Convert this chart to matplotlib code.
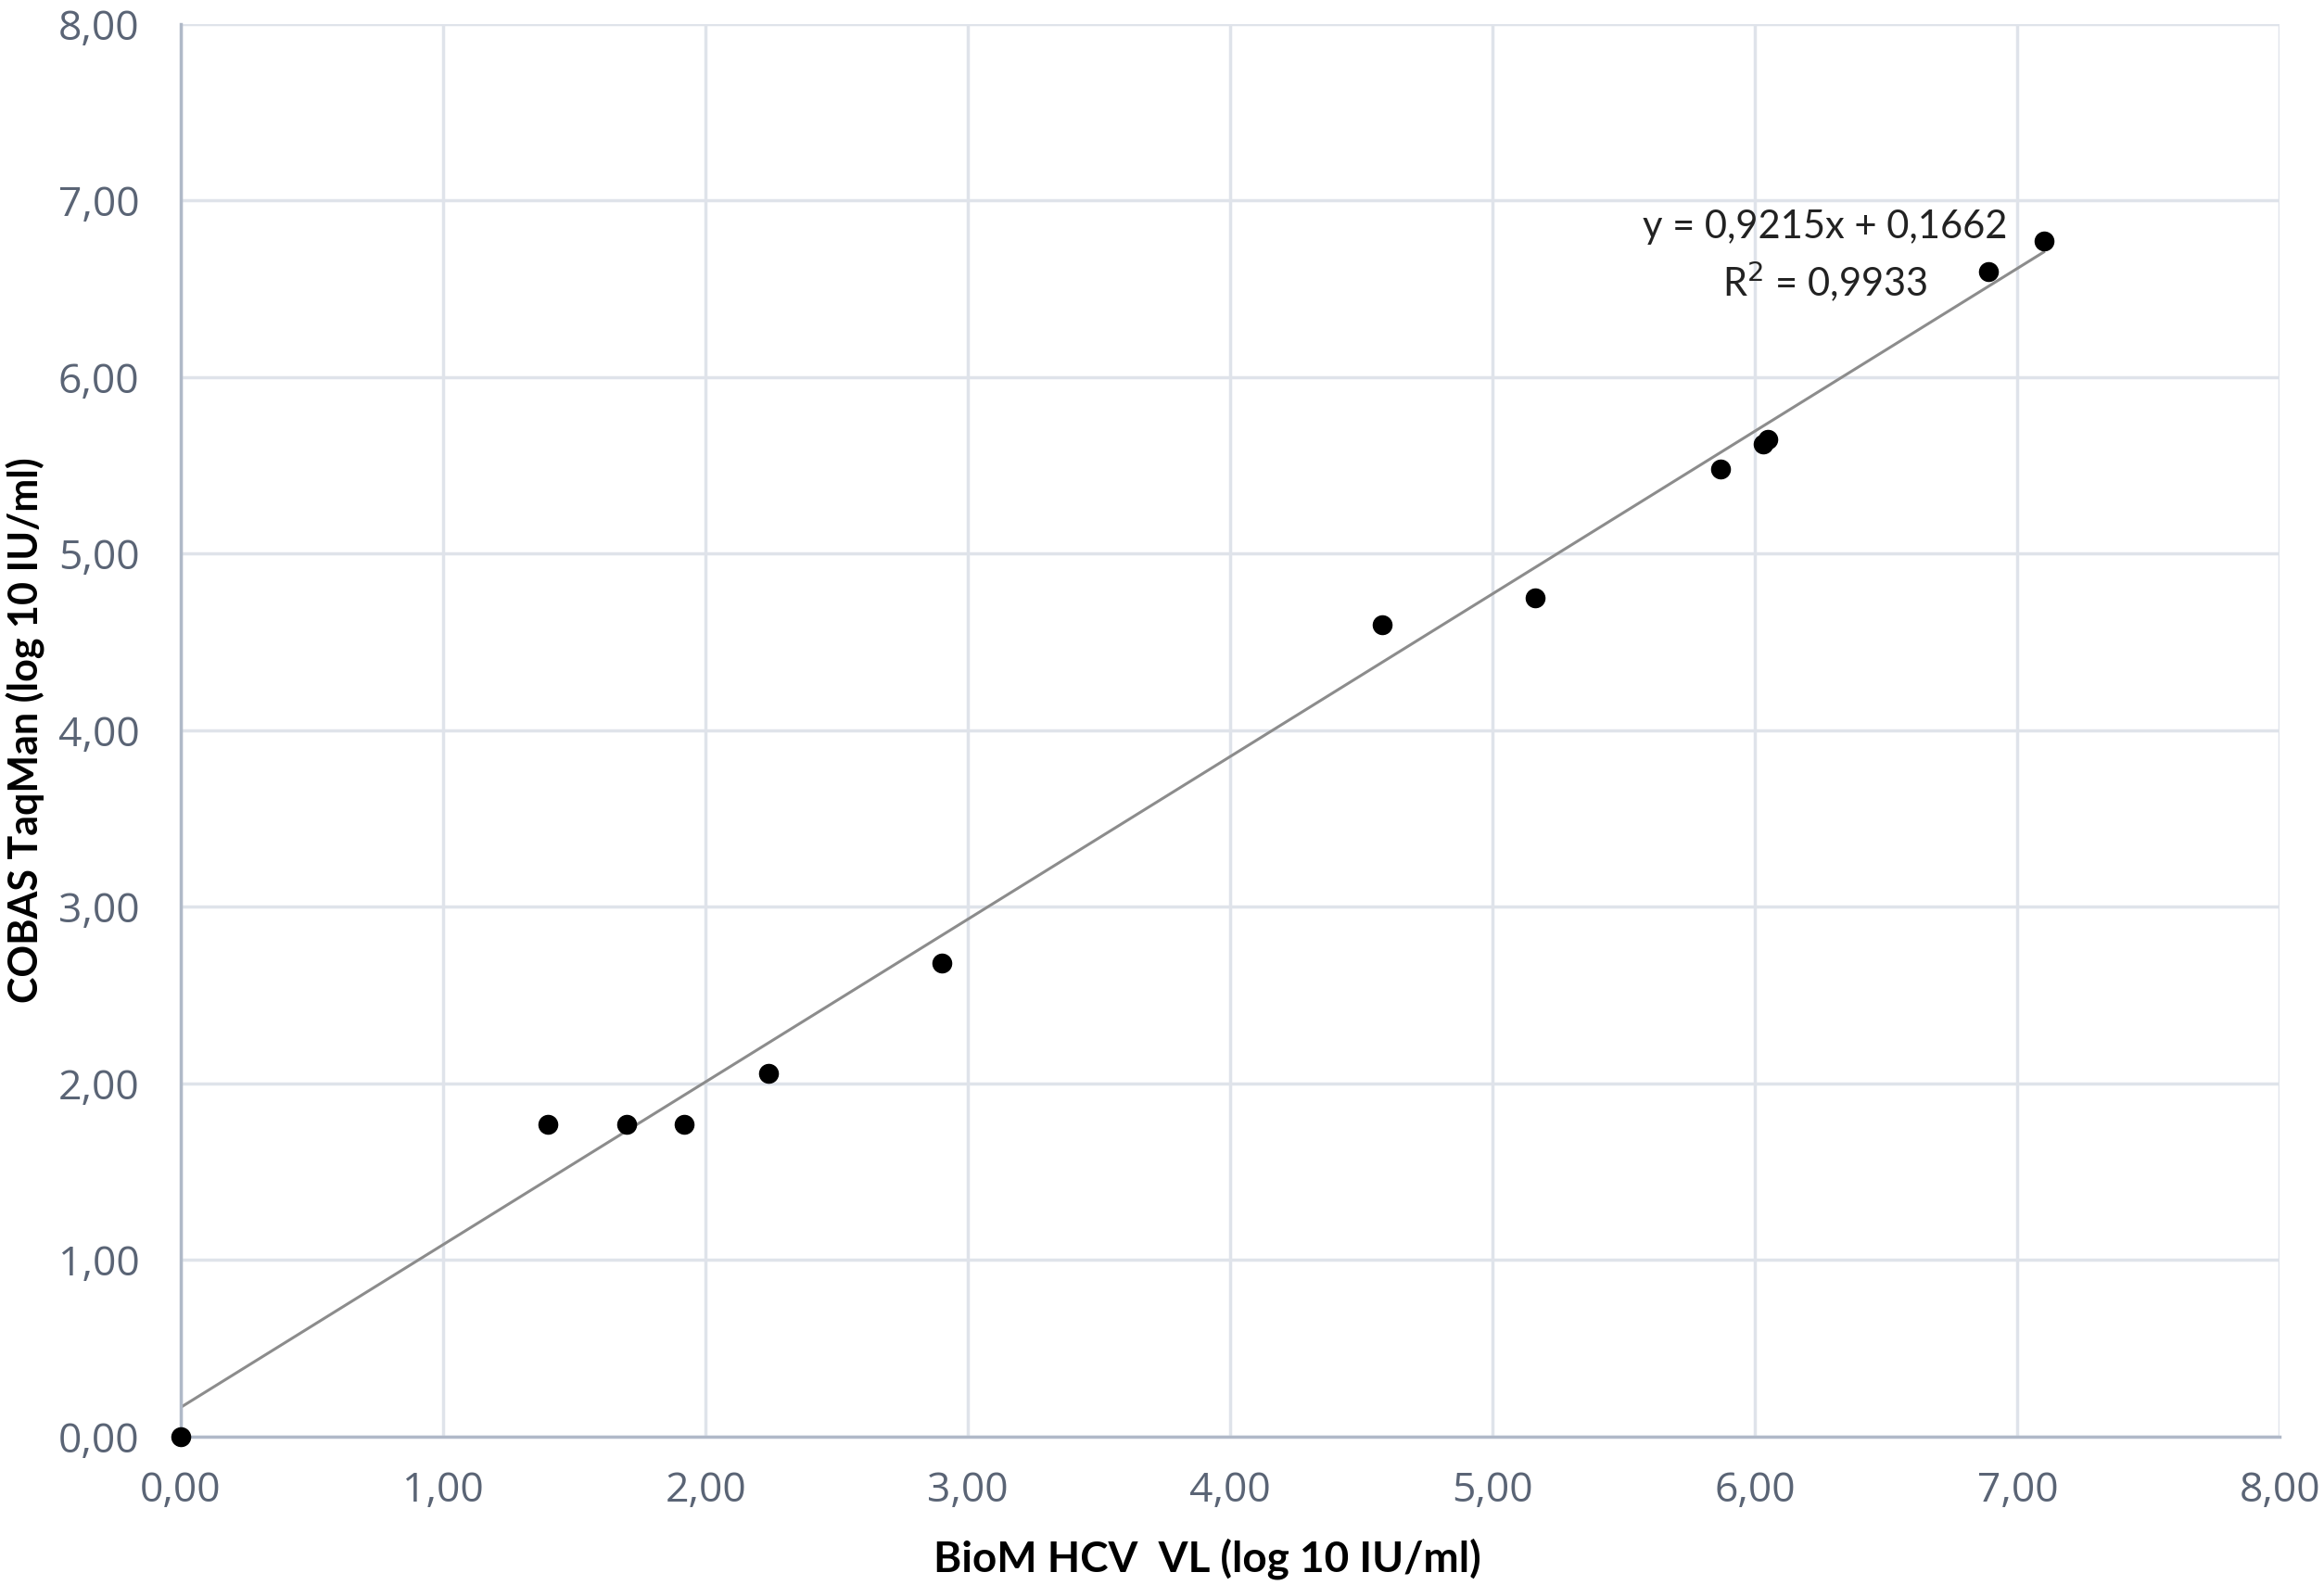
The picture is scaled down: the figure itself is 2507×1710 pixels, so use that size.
import matplotlib
matplotlib.use("Agg")
import matplotlib.pyplot as plt
from matplotlib.ticker import FuncFormatter, MultipleLocator
import numpy as np

# BioM HCV VL vs COBAS TaqMan, log10 IU/ml
biom = [0.00, 1.40, 1.70, 1.92, 2.24, 2.90, 4.58, 5.16, 5.87, 6.03, 6.05, 6.89, 7.10]
cobas = [0.00, 1.77, 1.77, 1.77, 2.06, 2.68, 4.60, 4.75, 5.48, 5.62, 5.65, 6.60, 6.77]

slope = 0.9215
intercept = 0.1662
r2 = 0.9933

tick_color = '#5a6475'
grid_color = '#dfe3ea'
axis_color = '#b0b9c8'

fig = plt.figure(figsize=(25.07, 17.10), dpi=100)
ax = fig.add_axes([0.0778, 0.0936, 0.9032, 0.8912])

ax.scatter(biom, cobas, s=210, color='black', zorder=3, clip_on=False)

xfit = np.array([0, max(biom)])
ax.plot(xfit, slope * xfit + intercept, color='#8c8c8c', lw=2.2, zorder=2)

ax.text(6.265, 6.85, 'y = 0,9215x + 0,1662', ha='center', va='center',
        fontsize=30, family='Lato', color='#222222')
ax.text(6.265, 6.54, 'R$^2$ = 0,9933', ha='center', va='center',
        fontsize=30, family='Lato', color='#222222')

ax.set_xlim(0, 8)
ax.set_ylim(0, 8)
ax.xaxis.set_major_locator(MultipleLocator(1))
ax.yaxis.set_major_locator(MultipleLocator(1))
fmt = FuncFormatter(lambda v, p: f'{v:.2f}'.replace('.', ','))
ax.xaxis.set_major_formatter(fmt)
ax.yaxis.set_major_formatter(fmt)

ax.grid(True, color=grid_color, lw=2.5)
ax.set_axisbelow(True)
for s in ['top', 'right']:
    ax.spines[s].set_visible(False)
for s in ['left', 'bottom']:
    ax.spines[s].set_color(axis_color)
    ax.spines[s].set_linewidth(2.5)

ax.tick_params(axis='both', length=0, labelsize=32, labelcolor=tick_color)
ax.tick_params(axis='x', pad=26)
ax.tick_params(axis='y', pad=32)
for lab in ax.get_xticklabels() + ax.get_yticklabels():
    lab.set_family('Open Sans')

ax.set_xlabel('BioM HCV  VL (log 10 IU/ml)', fontsize=33, fontweight='bold',
              family='Lato', labelpad=10)
ax.xaxis.set_label_coords(0.489, -0.072)
ax.set_ylabel('COBAS TaqMan (log 10 IU/ml)', fontsize=31, fontweight='bold',
              family='Lato', labelpad=10)

fig.savefig('out.png', dpi=100)
